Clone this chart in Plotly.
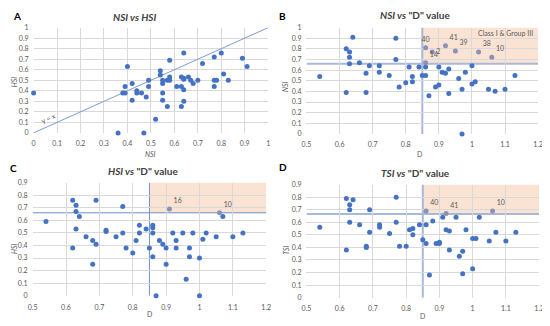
import plotly.graph_objects as go

# ---------------- data ----------------
# Panel A: NSI vs HSI
a_nsi = [0.00, 0.36, 0.47, 0.40, 0.38, 0.39, 0.39, 0.42, 0.44, 0.44, 0.42, 0.46, 0.48, 0.49, 0.49,
         0.52, 0.54, 0.54, 0.55, 0.55, 0.55, 0.55, 0.57, 0.58, 0.57, 0.58, 0.58, 0.61, 0.63, 0.64,
         0.64, 0.63, 0.64, 0.63, 0.64, 0.64, 0.66, 0.67, 0.68, 0.70, 0.72, 0.77, 0.77, 0.78, 0.77,
         0.80, 0.81, 0.83, 0.89, 0.91]
a_hsi = [0.38, 0.00, 0.00, 0.63, 0.38, 0.38, 0.44, 0.47, 0.40, 0.38, 0.31, 0.38, 0.34, 0.50, 0.44,
         0.13, 0.59, 0.55, 0.50, 0.47, 0.38, 0.31, 0.25, 0.69, 0.50, 0.50, 0.53, 0.44, 0.53, 0.52,
         0.51, 0.44, 0.41, 0.25, 0.30, 0.76, 0.53, 0.50, 0.47, 0.50, 0.66, 0.72, 0.50, 0.50, 0.44,
         0.76, 0.56, 0.50, 0.71, 0.63]
a_line = [0, 1]

# Panel B: D vs NSI
b_d = [0.54, 0.62, 0.62, 0.63, 0.63, 0.63, 0.64, 0.66, 0.68, 0.68, 0.69, 0.72, 0.72, 0.75, 0.77,
       0.77, 0.78, 0.80, 0.81, 0.82, 0.82, 0.84, 0.85, 0.86, 0.86, 0.87, 0.89, 0.90, 0.90, 0.91,
       0.92, 0.93, 0.93, 0.96, 0.97, 0.97, 0.98, 1.00, 1.00, 1.01, 1.05, 1.07, 1.10, 1.13]
b_nsi = [0.54, 0.80, 0.39, 0.77, 0.72, 0.66, 0.91, 0.67, 0.57, 0.39, 0.64, 0.64, 0.58, 0.55, 0.90,
         0.70, 0.44, 0.48, 0.63, 0.54, 0.49, 0.63, 0.55, 0.63, 0.55, 0.36, 0.44, 0.46, 0.63, 0.58,
         0.57, 0.61, 0.38, 0.52, 0.42, 0.00, 0.58, 0.64, 0.47, 0.49, 0.42, 0.40, 0.42, 0.55]
b_lab_d = [0.86, 0.88, 0.92, 0.95, 1.02, 1.06, 0.86]
b_lab_nsi = [0.81, 0.77, 0.83, 0.78, 0.77, 0.72, 0.67]
b_lab_txt = ["40", "2", "41", "39", "38", "10", "14"]
b_lab_pos = ["top center", "middle right", "top right", "top right", "top right", "top right", "top right"]

# Panel C: D vs HSI
c_d = [0.54, 0.62, 0.62, 0.63, 0.63, 0.63, 0.64, 0.66, 0.68, 0.68, 0.69, 0.69, 0.72, 0.72, 0.75,
       0.77, 0.77, 0.78, 0.80, 0.81, 0.82, 0.82, 0.84, 0.85, 0.86, 0.86, 0.86, 0.86, 0.87, 0.88,
       0.89, 0.90, 0.90, 0.92, 0.93, 0.93, 0.95, 0.96, 0.97, 0.97, 0.98, 1.00, 1.00, 1.01, 1.02,
       1.05, 1.07, 1.10, 1.13]
c_hsi = [0.59, 0.76, 0.38, 0.72, 0.67, 0.53, 0.63, 0.47, 0.44, 0.25, 0.76, 0.41, 0.52, 0.51, 0.47,
         0.71, 0.50, 0.38, 0.34, 0.44, 0.56, 0.50, 0.53, 0.38, 0.56, 0.54, 0.50, 0.31, 0.00, 0.44,
         0.41, 0.38, 0.25, 0.50, 0.44, 0.38, 0.50, 0.13, 0.38, 0.31, 0.50, 0.30, 0.00, 0.45, 0.50,
         0.47, 0.63, 0.47, 0.50]
c_lab_d = [0.91, 1.06]
c_lab_hsi = [0.69, 0.66]
c_lab_txt = ["16", "10"]

# Panel D: D vs TSI
d_d = [0.54, 0.62, 0.62, 0.63, 0.63, 0.63, 0.64, 0.66, 0.68, 0.68, 0.69, 0.69, 0.72, 0.72, 0.75,
       0.77, 0.77, 0.78, 0.80, 0.81, 0.82, 0.82, 0.84, 0.85, 0.86, 0.86, 0.87, 0.88, 0.89, 0.90,
       0.90, 0.91, 0.92, 0.93, 0.93, 0.95, 0.96, 0.97, 0.97, 0.98, 1.00, 1.01, 1.00, 1.02, 1.05,
       1.07, 1.10, 1.13]
d_tsi = [0.56, 0.79, 0.38, 0.74, 0.70, 0.60, 0.78, 0.58, 0.41, 0.40, 0.70, 0.52, 0.58, 0.56, 0.51,
         0.80, 0.60, 0.41, 0.41, 0.54, 0.55, 0.50, 0.58, 0.46, 0.58, 0.43, 0.18, 0.61, 0.43, 0.43,
         0.44, 0.64, 0.54, 0.53, 0.38, 0.64, 0.33, 0.37, 0.19, 0.54, 0.47, 0.47, 0.23, 0.64, 0.45,
         0.52, 0.45, 0.52]
d_lab_d = [0.86, 0.92, 1.06]
d_lab_tsi = [0.69, 0.67, 0.69]
d_lab_txt = ["40", "41", "10"]

D_THR = 0.85
NSI_THR = 0.66
HSI_THR = 0.66
TSI_THR = 0.665

# ---------------- style ----------------
OFF = 8  # default page body margin
W, H = 550 - OFF, 326 - OFF
FONT = "Lato, Liberation Sans, sans-serif"
BLUE = "#4472C4"
GRAYPT = "#8C90B4"
GRID = "#D9D9D9"
TICK = "#595959"
SHADE = "#FBE3D3"

def px(x):
    return (x - OFF) / W

def py(y):
    return 1 - (y - OFF) / H

fig = go.Figure()

def pts(x, y, xa, ya, color=BLUE):
    fig.add_trace(go.Scatter(x=x, y=y, mode="markers", xaxis=xa, yaxis=ya,
                             marker=dict(color=color, size=5), showlegend=False,
                             hoverinfo="skip", cliponaxis=False))

def labpts(x, y, txt, xa, ya, pos="top right"):
    fig.add_trace(go.Scatter(x=x, y=y, mode="markers+text", xaxis=xa, yaxis=ya,
                             text=txt, textposition=pos,
                             textfont=dict(size=7, color="#595959", family=FONT),
                             marker=dict(color=GRAYPT, size=5), showlegend=False,
                             hoverinfo="skip", cliponaxis=False))

# A
fig.add_trace(go.Scatter(x=a_line, y=a_line, mode="lines", xaxis="x", yaxis="y",
                         line=dict(color="#7F9CD3", width=1), showlegend=False, hoverinfo="skip"))
pts(a_nsi, a_hsi, "x", "y")
# B
pts(b_d, b_nsi, "x2", "y2")
labpts(b_lab_d, b_lab_nsi, b_lab_txt, "x2", "y2", b_lab_pos)
# C
pts(c_d, c_hsi, "x3", "y3")
labpts(c_lab_d, c_lab_hsi, c_lab_txt, "x3", "y3")
# D
pts(d_d, d_tsi, "x4", "y4")
labpts(d_lab_d, d_lab_tsi, d_lab_txt, "x4", "y4")

def axis(dom, rng, dtick, anchor, standoff):
    return dict(domain=dom, range=rng, dtick=dtick, anchor=anchor, showgrid=True,
                gridcolor=GRID, gridwidth=1, zeroline=False, showline=False,
                tickfont=dict(size=7, color=TICK, family=FONT), ticks="",
                fixedrange=True, tickformat="~g", ticklabelstandoff=standoff)

layout = dict(
    width=W, height=H, margin=dict(l=0, r=0, t=0, b=0),
    paper_bgcolor="white", plot_bgcolor="white", font=dict(family=FONT),
    xaxis=axis([px(29), px(268)], [0, 1], 0.1, "y", 5),
    yaxis=axis([py(131), py(23)], [0, 1], 0.1, "x", 4),
    xaxis2=axis([px(307), px(543)], [0.5, 1.2], 0.1, "y2", 5),
    yaxis2=axis([py(132), py(23)], [0, 1], 0.1, "x2", 4),
    xaxis3=axis([px(28), px(266)], [0.5, 1.2], 0.1, "y3", 6),
    yaxis3=axis([py(298), py(182)], [0, 0.9], 0.1, "x3", 4),
    xaxis4=axis([px(307), px(544)], [0.5, 1.2], 0.1, "y4", 5),
    yaxis4=axis([py(300), py(184)], [0, 0.9], 0.1, "x4", 4),
)
fig.update_layout(**layout)

shapes = []
for xr, yr, ytop, thr, lw, lc in [("x2", "y2", 1.0, NSI_THR, 2, "#A7B8D8"),
                                  ("x3", "y3", 0.9, HSI_THR, 1, "#6F8FCB"),
                                  ("x4", "y4", 0.9, TSI_THR, 2, "#A7B8D8")]:
    shapes.append(dict(type="rect", xref=xr, yref=yr, x0=D_THR, x1=1.2, y0=thr, y1=ytop,
                       fillcolor=SHADE, line=dict(width=0), layer="below"))
    shapes.append(dict(type="line", xref=xr, yref=yr, x0=0.5, x1=1.2, y0=thr, y1=thr,
                       line=dict(color=lc, width=lw), layer="below"))
    shapes.append(dict(type="line", xref=xr, yref=yr, x0=D_THR, x1=D_THR, y0=0, y1=ytop,
                       line=dict(color=lc, width=lw), layer="below"))
fig.update_layout(shapes=shapes)

ann = []
def txt(x, y, s, size=9, color="#404040", angle=0, xanchor="center", yanchor="middle"):
    ann.append(dict(x=px(x), y=py(y), xref="paper", yref="paper", text=s, showarrow=False,
                    font=dict(size=size, color=color, family=FONT), textangle=angle,
                    xanchor=xanchor, yanchor=yanchor))

# panel letters
txt(12, 11, "<b>A</b>", 10, "#000000")
txt(283, 11, "<b>B</b>", 10, "#000000")
txt(8, 167, "<b>C</b>", 10, "#000000")
txt(283, 166, "<b>D</b>", 10, "#000000")
# titles
txt(132, 12, "<b><i>NSI vs HSI</i></b>", 10)
txt(418, 10, "<b><i>NSI vs</i> \"D\" value</b>", 10)
txt(140, 170, "<b><i>HSI vs</i> \"D\" value</b>", 10)
txt(418, 172, "<b><i>TSI vs</i> \"D\" value</b>", 10)
# axis titles
txt(148, 153, "<i>NSI</i>", 7, TICK)
txt(9, 78, "<i>HSI</i>", 7, TICK, -90)
txt(422, 153, "D", 7, TICK)
txt(285, 83, "<i>NSI</i>", 7, TICK, -90)
txt(147, 317, "D", 7, TICK)
txt(9, 249, "<i>HSI</i>", 7, TICK, -90)
txt(425, 319, "D", 7, TICK)
txt(286, 251, "<i>TSI</i>", 7, TICK, -90)
# y = x label
txt(44, 116, "y = x", 7, "#595959", -24)
# class label
ann.append(dict(x=1.19, y=0.95, xref="x2", yref="y2", text="Class I & Group III", showarrow=False,
                font=dict(size=7, color="#595959", family=FONT), xanchor="right", yanchor="middle"))
fig.update_layout(annotations=ann)

fig.write_html("out.html")
